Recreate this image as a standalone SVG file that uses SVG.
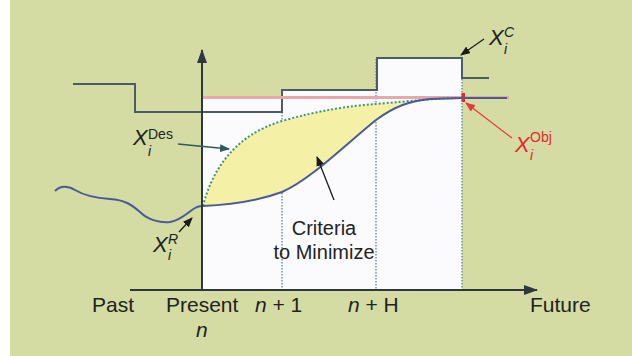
<svg xmlns="http://www.w3.org/2000/svg" width="632" height="356" viewBox="0 0 632 356">
<style>
text{font-family:"Liberation Sans",Arial,sans-serif;fill:#222;}
.ax{font-size:21px;}
.it{font-style:italic;}
.cr{font-size:20px;}
.big{font-size:22px;}
.sm{font-size:14px;}
.axis{stroke:#2e3640;stroke-width:2;fill:none;}
.vd{stroke:#7393ab;stroke-width:1.5;stroke-dasharray:1.5 1.5;fill:none;}
.lead{stroke:#1a1a1a;stroke-width:1.3;fill:none;}
</style>
<defs>
<marker id="ah" markerUnits="userSpaceOnUse" markerWidth="10" markerHeight="8" refX="9" refY="4" orient="auto"><path d="M0,0 L10,4 L0,8 Z" fill="#1a1a1a"/></marker>
<marker id="ahT" markerUnits="userSpaceOnUse" markerWidth="10" markerHeight="8" refX="9" refY="4" orient="auto"><path d="M0,0 L10,4 L0,8 Z" fill="#2d5a5a"/></marker>
<marker id="ahR" markerUnits="userSpaceOnUse" markerWidth="10" markerHeight="8" refX="9" refY="4" orient="auto"><path d="M0,0 L10,4 L0,8 Z" fill="#e8393a"/></marker>
<marker id="axh" markerUnits="userSpaceOnUse" markerWidth="14" markerHeight="10" refX="13" refY="5" orient="auto"><path d="M0,0 L14,5 L0,10 Z" fill="#2e3640"/></marker>
</defs>
<rect x="0" y="0" width="632" height="356" fill="#fff"/>
<rect x="10" y="0" width="622" height="356" fill="#d4dca4"/>

<g id="horizon">
<path d="M203,96 H282 V90 H377 V58 H462 V290 H203 Z" fill="#fbfbfd"/>
<path class="vd" d="M282,91 V289"/>
<path class="vd" d="M376,59 V289"/>
<path class="vd" d="M462,79 V289"/>
</g>

<g id="criteria-area">
<path d="M203,206 C212,170 235,135 282,121 C320,110 350,106 376,104 C410,101 440,98 463,98 L430,99 C410,101 395,106 376,120 C345,145 310,180 282,192 C255,202 230,205 203,206 Z" fill="#f4f1a6"/>
</g>

<g id="XC">
<path d="M73,84 H135 V112 H282 V90 H377 V58 H462 V78 H489" fill="none" stroke="#4e5a66" stroke-width="2"/>
<text class="big"><tspan x="489" y="45" class="it">X</tspan><tspan x="504" y="37" class="sm it">C</tspan><tspan x="504" y="54" class="sm it">i</tspan></text>
</g>

<g id="XObj">
<line x1="203" y1="97.5" x2="509" y2="97.5" stroke="#e8a7a9" stroke-width="3"/>
<rect x="461.5" y="93" width="3.5" height="9" fill="#e52a2e"/>
<text class="big" style="fill:#e8262b"><tspan x="515" y="152" class="it">X</tspan><tspan x="530" y="142" class="sm">Obj</tspan><tspan x="530" y="160" class="sm it">i</tspan></text>
</g>

<g id="XDes">
<path d="M203,206 C212,170 235,135 282,121 C320,110 350,106 376,104 C410,101 440,98 463,98" fill="none" stroke="#3b9483" stroke-width="2" stroke-dasharray="2 2"/>
<text class="big"><tspan x="133" y="145" class="it">X</tspan><tspan x="148" y="139" class="sm">Des</tspan><tspan x="148" y="156" class="sm it">i</tspan></text>
</g>

<g id="XR">
<path d="M55,191 C60,186 66,185 75,190 C85,196 95,198 110,199 C125,200 132,205 140,212 C148,220 160,223 170,222 C182,220 188,212 195,208 C198,206 200,206 203,206 C230,205 255,202 282,192 C310,180 345,145 376,120 C395,106 410,101 430,99 L463,98 L507,98" fill="none" stroke="#4a5a98" stroke-width="2"/>
<text class="big"><tspan x="153" y="252" class="it">X</tspan><tspan x="168" y="244" class="sm it">R</tspan><tspan x="168" y="260" class="sm it">i</tspan></text>
</g>

<g id="axes">
<line class="axis" x1="202" y1="290" x2="202" y2="50" marker-end="url(#axh)"/>
<line class="axis" x1="130" y1="290" x2="537" y2="290" marker-end="url(#axh)"/>
</g>

<g id="criteria-label">
<text class="cr" text-anchor="middle"><tspan x="324" y="235">Criteria</tspan><tspan x="324" y="259">to Minimize</tspan></text>
</g>

<g id="connectors">
<line class="lead" x1="334" y1="200" x2="317" y2="157" marker-end="url(#ah)"/>
<line x1="178" y1="144" x2="229" y2="149" stroke="#2d5a5a" stroke-width="1.3" marker-end="url(#ahT)"/>
<line class="lead" x1="179" y1="232" x2="192" y2="218" marker-end="url(#ah)"/>
<line class="lead" x1="484" y1="39" x2="461" y2="55" marker-end="url(#ah)"/>
<line x1="512" y1="138" x2="466" y2="103" stroke="#e8393a" stroke-width="1.3" marker-end="url(#ahR)"/>
</g>

<g id="labels">
<text x="92" y="312" class="ax">Past</text>
<text x="166" y="312" class="ax">Present</text>
<text x="196" y="337" class="ax it">n</text>
<text x="255" y="312" class="ax"><tspan class="it">n</tspan> + 1</text>
<text x="348" y="312" class="ax"><tspan class="it">n</tspan> + H</text>
<text x="530" y="312" class="ax">Future</text>
</g>
</svg>
